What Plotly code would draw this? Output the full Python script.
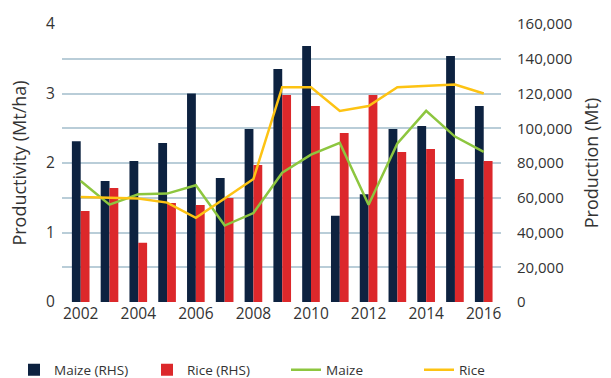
import plotly.graph_objects as go

# Annual data, 2002-2016
years = list(range(2002, 2017))
maize_production = [92500, 69600, 81100, 91500, 120000, 71400, 99600, 134100,
                    147300, 49700, 62000, 99600, 101300, 141600, 112800]
rice_production = [52400, 65600, 34100, 57000, 55800, 59900, 78800, 119100,
                   112800, 97300, 119100, 86300, 88100, 70800, 81100]
maize_productivity = [1.74, 1.40, 1.55, 1.56, 1.68, 1.10, 1.28, 1.86,
                      2.12, 2.29, 1.40, 2.28, 2.75, 2.38, 2.16]
rice_productivity = [1.51, 1.50, 1.49, 1.43, 1.21, 1.49, 1.77, 3.09,
                     3.09, 2.75, 2.82, 3.09, 3.11, 3.13, 3.00]

NAVY = "#0d2240"
RED = "#dc282b"
GREEN = "#8dc63f"
GOLD = "#fdc313"
GRID = "#b9cdd8"
TEXT = "#333333"
FONT = "Open Sans, Noto Sans, Liberation Sans, sans-serif"
CLEAR = "rgba(0,0,0,0)"

fig = go.Figure()

# Production bars on the right-hand axis
fig.add_trace(go.Bar(x=years, y=maize_production, name="Maize (RHS)",
                     marker=dict(color=NAVY, line=dict(width=0)),
                     yaxis="y", legend="legend"))
fig.add_trace(go.Bar(x=years, y=rice_production, name="Rice (RHS)",
                     marker=dict(color=RED, line=dict(width=0)),
                     yaxis="y", legend="legend"))

# Productivity lines on the left-hand axis
fig.add_trace(go.Scatter(x=years, y=maize_productivity, name="Maize",
                         mode="lines", line=dict(color=GREEN, width=2.5),
                         yaxis="y2", legend="legend2"))
fig.add_trace(go.Scatter(x=years, y=rice_productivity, name="Rice",
                         mode="lines", line=dict(color=GOLD, width=2.5),
                         yaxis="y2", legend="legend2"))

legend_common = dict(
    orientation="h", xref="container", yref="container",
    xanchor="left", y=8 / 378, yanchor="middle",
    entrywidth=88, entrywidthmode="pixels",
    font=dict(family=FONT, size=13.5, color=TEXT),
    bgcolor=CLEAR, borderwidth=0,
)

fig.update_layout(
    width=611, height=378,
    margin=dict(l=62, r=102, t=24, b=76),
    paper_bgcolor="white", plot_bgcolor="white",
    barmode="group", bargap=0.387, bargroupgap=0,
    font=dict(family=FONT, size=15.5, color=TEXT),
    xaxis=dict(
        range=[2001.35, 2016.6], tickmode="array",
        tickvals=years[::2], ticktext=[str(y) for y in years[::2]],
        showgrid=False, zeroline=False, showline=False,
        ticks="", 
        tickfont=dict(family=FONT, size=15.5, color=TEXT),
    ),
    yaxis=dict(
        side="right", range=[0, 160000], dtick=20000,
        tickformat=",", showgrid=True, gridcolor=GRID, gridwidth=2,
        zeroline=False, showline=False,
        ticks="outside", ticklen=12, tickcolor=CLEAR,
        tickfont=dict(family=FONT, size=15, color=TEXT),
        title=dict(text="Production (Mt)", standoff=14,
                   font=dict(family=FONT, size=18, color=TEXT)),
    ),
    yaxis2=dict(
        side="left", overlaying="y", range=[0, 4], dtick=1,
        showgrid=False, zeroline=False, showline=False,
        ticks="outside", ticklen=3, tickcolor=CLEAR,
        tickfont=dict(family=FONT, size=15.5, color=TEXT),
        title=dict(text="Productivity (Mt/ha)", standoff=14,
                   font=dict(family=FONT, size=18, color=TEXT)),
    ),
    legend=dict(x=14 / 611, **legend_common),
    legend2=dict(x=286 / 611, **legend_common),
    showlegend=True,
)

fig.write_html("out.html")
